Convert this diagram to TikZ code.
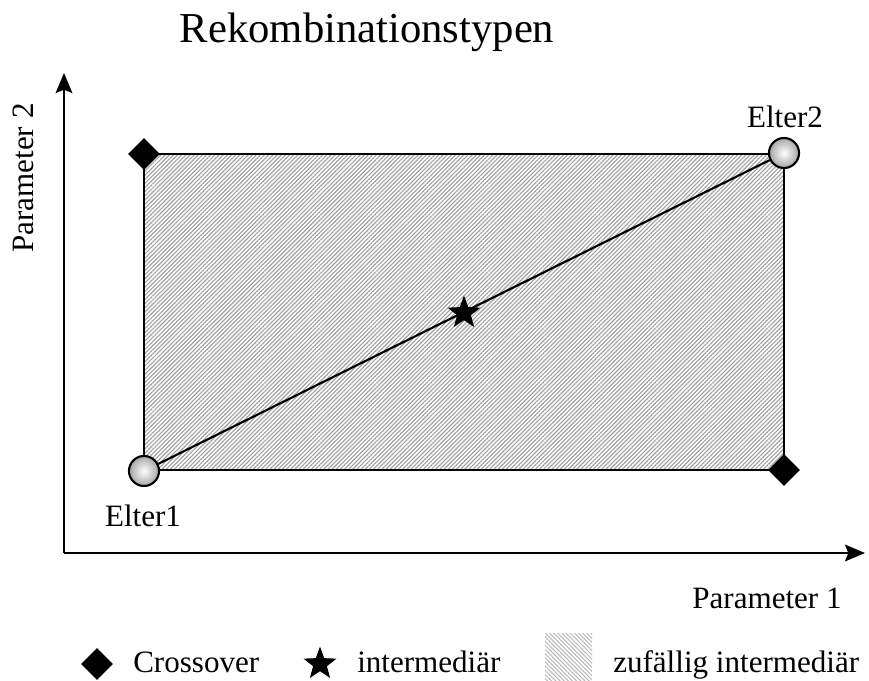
\documentclass[tikz,border=0pt]{standalone}
\usepackage{fontspec}
\setmainfont{Liberation Serif}
\usetikzlibrary{arrows.meta,shapes.geometric,patterns.meta}

\tikzset{
  label text/.style={inner sep=0pt, font=\fontsize{23.3}{28}\selectfont},
  title text/.style={inner sep=0pt, font=\fontsize{32}{38}\selectfont},
  axis/.style={line width=1.7pt, -{Stealth[length=15pt,width=12.5pt,inset=2.5pt]}},
  parent/.style={circle, draw=black, line width=1.6pt, inner sep=0pt,
    minimum size=22.5pt, inner color=white, outer color=gray!70},
  crossmark/.style={diamond, fill=black, inner sep=0pt, minimum size=24pt},
  starmark/.style={star, star points=5, star point ratio=2.4, fill=black,
    inner sep=0pt, minimum size=26pt},
  hatched/.style={pattern={Lines[angle=45,distance=2.2pt,line width=0.85pt]},
    pattern color=gray!75},
  hatchedkey/.style={pattern={Lines[angle=-45,distance=2.2pt,line width=0.8pt]},
    pattern color=gray!55},
}

\begin{document}
\begin{tikzpicture}[x=0.75pt, y=-0.75pt]
  \useasboundingbox (0,0) rectangle (869,681);

  % title
  \node[title text, anchor=base] (title) at (367,43) {Rekombinationstypen};

  % axes
  \coordinate (origin) at (64,553);
  \coordinate (ytip) at (64,73);
  \coordinate (xtip) at (865,553);
  \draw[axis] (origin) -- (ytip);
  \draw[axis] (origin) -- (xtip);
  \node[label text, anchor=base] (xlabel) at (767,608) {Parameter 1};
  \node[label text, anchor=base, rotate=90] (ylabel) at (33,178) {Parameter 2};

  % region of random intermediate recombination
  \draw[hatched, draw=black, line width=1.6pt] (144,154) rectangle (784,470);

  % parents and offspring
  \node[parent] (e1) at (144,471) {};
  \node[parent] (e2) at (784,153) {};
  \draw[line width=1.6pt] (e1) -- (e2);
  \node[starmark] (mid) at (464,313) {};
  \node[crossmark] (c1) at (144,154) {};
  \node[crossmark] (c2) at (784,470) {};
  \node[label text, anchor=base] (l1) at (143,527) {Elter1};
  \node[label text, anchor=base] (l2) at (785,128) {Elter2};

  % legend
  \node[crossmark] (k1) at (97,664) {};
  \node[label text, anchor=base west] (t1) at (133,672) {Crossover};
  \node[starmark] (k2) at (320,664) {};
  \node[label text, anchor=base west] (t2) at (357,672) {intermediär};
  \path[hatchedkey] (545,633) rectangle (592,680);
  \node[label text, anchor=base west] (t3) at (613,672) {zufällig intermediär};
\end{tikzpicture}
\end{document}
